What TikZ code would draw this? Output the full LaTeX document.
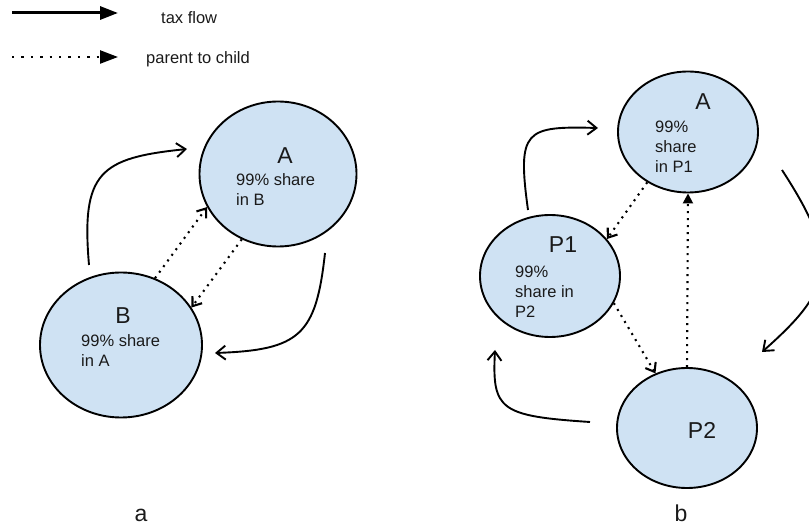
\documentclass[tikz,border=0pt]{standalone}
\usepackage{fontspec}
\setmainfont{Liberation Sans}
\usepackage{xcolor}
\usetikzlibrary{positioning, arrows.meta, shapes.geometric}

\definecolor{cellblue}{HTML}{CFE2F3}
\definecolor{inktext}{HTML}{1A1A1A}

\begin{document}
\begin{tikzpicture}[
      x=1pt, y=-1pt,
      font=\fontsize{16.5}{20}\selectfont,
      ent/.style={draw, ellipse, fill=cellblue, line width=1.9pt, inner sep=0pt},
      txt/.style={align=left, text=inktext, inner sep=0pt, anchor=west},
      big/.style={font=\fontsize{23}{24}\selectfont, text=inktext, inner sep=0pt},
      tax/.style={-{Straight Barb[length=9pt, width=14pt]}, line width=1.9pt},
      own/.style={-{Straight Barb[length=8pt, width=12pt]}, line width=2.1pt,
                  dash pattern=on 2pt off 5pt},
      ownfill/.style={-{Triangle[length=10pt, width=10pt]}, line width=2.1pt,
                  dash pattern=on 2pt off 5pt},
    ]
    \clip (0,0) rectangle (809,529);

    % Legend
    \coordinate (l1a) at (12,13);
    \coordinate (l1b) at (118,13);
    \coordinate (l2a) at (12,57);
    \coordinate (l2b) at (118,57);
    \node[txt] (ltax) at (161,18) {tax flow};
    \node[txt] (lpar) at (146,59) {parent to child};
    \draw[-{Triangle[length=18pt, width=13pt]}, line width=3pt] (l1a) -- (l1b);
    \draw[-{Triangle[length=18pt, width=13pt]}, line width=2.4pt,
          dash pattern=on 2.4pt off 7pt] (l2a) -- (l2b);

    % Diagram a
    \node[ent, minimum width=157pt, minimum height=145pt] (A) at (278,174) {};
    \node[ent, minimum width=162pt, minimum height=145pt] (B) at (121,345) {};
    \node[big] (Aname) at (285,156) {A};
    \node[txt] (Ashare) at (236,190) {99\% share\\in B};
    \node[big] (Bname) at (123,316) {B};
    \node[txt] (Bshare) at (81,351) {99\% share\\in A};

    \coordinate (taxBs) at (89,265);
    \coordinate (taxBe) at (187,149);
    \coordinate (taxAs) at (325,253);
    \coordinate (taxAe) at (215,353);
    \draw[tax] (taxBs) .. controls (81,172) and (100,158) .. (taxBe);
    \draw[tax] (taxAs) .. controls (316,335) and (300,350) .. (taxAe);
    \draw[own] (B.63) -- (A.205);
    \draw[own] (A.241) -- (B.28);

    \node[big] (capa) at (141,515) {a};

    % Diagram b
    \node[ent, minimum width=140pt, minimum height=121pt] (Ab) at (688,132) {};
    \node[ent, minimum width=140pt, minimum height=122pt] (P1) at (550,276) {};
    \node[ent, minimum width=140pt, minimum height=120pt] (P2) at (687,428) {};
    \node[big] (Abname) at (703,102) {A};
    \node[txt] (Abshare) at (655,147) {99\%\\share\\in P1};
    \node[big] (P1name) at (563,245) {P1};
    \node[txt] (P1share) at (515,292) {99\%\\share in\\P2};
    \node[big] (P2name) at (702,430) {P2};

    \coordinate (taxPs) at (528,210);
    \coordinate (taxPe) at (598,128);
    \coordinate (taxAbs) at (782,170);
    \coordinate (taxAbe) at (762,352);
    \coordinate (taxQs) at (590,422);
    \coordinate (taxQe) at (495,350);
    \draw[tax] (taxPs) .. controls (517,130) and (525,126) .. (taxPe);
    \draw[tax] (taxAbs) .. controls (842,262) and (832,290) .. (taxAbe);
    \draw[tax] (taxQs) .. controls (500,416) and (492,410) .. (taxQe);
    \draw[own] (Ab.231) -- (P1.33);
    \draw[own] (P1.337) -- (P2.120);
    \draw[ownfill] (P2.90) -- (Ab.270);

    \node[big] (capb) at (681,513) {b};
\end{tikzpicture}
\end{document}
